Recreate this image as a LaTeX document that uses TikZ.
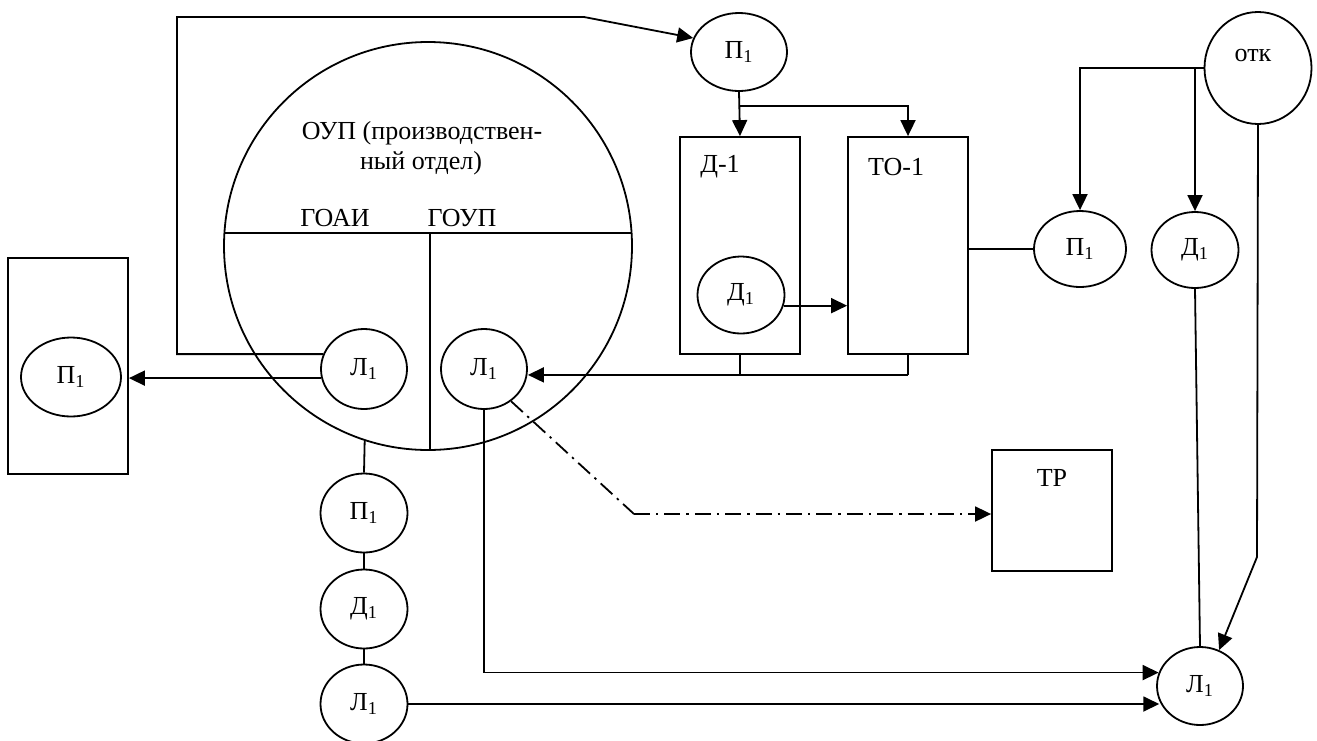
\documentclass[tikz,border=0pt]{standalone}
\usepackage{fontspec}
\setmainfont{Liberation Serif}
\usetikzlibrary{shapes.geometric,arrows.meta,calc}
\begin{document}
\begin{tikzpicture}[x=0.5pt,y=-0.5pt,line width=0.9pt,
  every node/.style={font=\fontsize{13}{15}\selectfont},
  ell/.style={draw,ellipse,inner sep=0pt,minimum width=43.5pt,minimum height=39.5pt},
  box/.style={draw,rectangle,inner sep=0pt},
  lbl/.style={inner sep=0pt,anchor=center},
  arr/.style={-{Triangle[length=8pt,width=7.5pt]}},
  dd/.style={dash pattern=on 8pt off 3pt on 1.2pt off 3pt}]
\useasboundingbox (0,0) rectangle (1317,740);
% big circle
\node[draw,circle,inner sep=0pt,minimum size=204pt] (oup) at (428,246) {};
\draw (224,233) -- (632,233);
\draw (430,233) -- (430,449);
\node[lbl] (t1) at (422,133) {ОУП (производствен-};
\node[lbl] (t2) at (421,163) {ный отдел)};
\node[lbl] (goai) at (335,218) {ГОАИ};
\node[lbl] (goup) at (462,218) {ГОУП};
\node[ell,minimum width=43pt,minimum height=40pt] (lA) at (364,369) {Л\textsubscript{1}};
\node[ell,minimum width=43pt,minimum height=40pt] (lB) at (484,369) {Л\textsubscript{1}};
% left rect
\node[box,minimum width=60pt,minimum height=108pt] (lrect) at (68,366) {};
\node[ell,minimum width=50pt,minimum height=39.5pt] (pL) at (71,377) {П\textsubscript{1}};
% top
\node[ell,minimum width=48pt,minimum height=39pt] (pTop) at (739,52) {П\textsubscript{1}};
\node[box,minimum width=60pt,minimum height=108.5pt] (d1) at (740,245.5) {};
\node[box,minimum width=60pt,minimum height=108.5pt] (to1) at (908,245.5) {};
\node[lbl] (d1t) at (720,167) {Д-1};
\node[lbl] (to1t) at (896,167) {ТО-1};
\node[ell,minimum width=43.5pt,minimum height=38.5pt] (dIn) at (741,295) {Д\textsubscript{1}};
% right
\node[ell,minimum width=46pt,minimum height=38pt] (pR) at (1080,249) {П\textsubscript{1}};
\node[ell,minimum width=43.5pt,minimum height=38pt] (dR) at (1195,250) {Д\textsubscript{1}};
\node[ell,minimum width=53.5pt,minimum height=56pt] (otk) at (1258,68) {};
\node[lbl] (otkt) at (1253,55) {отк};
\node[ell,minimum width=43pt,minimum height=39pt] (lR) at (1200,686) {Л\textsubscript{1}};
\node[box,minimum width=60pt,minimum height=60.5pt] (tp) at (1052,510.5) {};
\node[lbl] (tpt) at (1052,478) {ТР};
% left column
\node[ell] (pC) at (364,513) {П\textsubscript{1}};
\node[ell] (dC) at (364,609) {Д\textsubscript{1}};
\node[ell] (lC) at (364,704) {Л\textsubscript{1}};
% connectors
\coordinate (loopx) at (177,17);
\draw[arr] (lA.160) -- (lA.160 -| loopx) -- (loopx) -- (584,17) -- (pTop.163);
\draw[arr] (lA.192) -- (lA.192 -| lrect.east);
\draw[arr] (pTop.south) -- (d1.north);
\draw[arr] ([yshift=-7pt]pTop.south) -| (to1.north);
\draw[arr] (dIn.-14) -- (dIn.-14 -| to1.west);
\draw (d1.south) -- ++(0,20) coordinate (jd);
\draw (to1.south) -- ++(0,20) coordinate (jt);
\draw[arr] (jt) -- (lB.east |- jt);
\draw (pR.west -| to1.east) -- (pR.west);
\draw[arr] (otk.west) -| (pR.north);
\draw[arr] (otk.west -| dR.north) -- (dR.north);
\coordinate (bend) at (1257,557);
\draw[arr] (otk.south) -- (bend) -- (lR.62);
\draw (dR.south) -- (lR.north);
\draw[arr] (lB.south) |- (lR.162);
\draw[arr] (lC.east) -- (lC.east -| lR.200);
\coordinate (ddb) at (634,514);
\draw[dd] (lB.-50) -- (ddb);
\draw[dd,arr] (ddb) -- (ddb -| tp.west);
\draw (oup.-108) -- (pC.north);
\draw (pC.south) -- (dC.north);
\draw (dC.south) -- (lC.north);
\end{tikzpicture}
\end{document}
